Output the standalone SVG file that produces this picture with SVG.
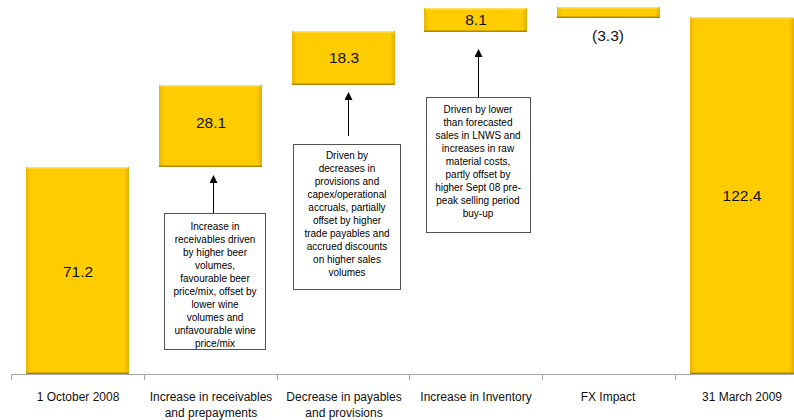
<svg xmlns="http://www.w3.org/2000/svg" width="794" height="420" viewBox="0 0 794 420">
<defs>
<linearGradient id="gh" x1="0" y1="0" x2="1" y2="0">
<stop offset="0" stop-color="#E8B800"/>
<stop offset="0.05" stop-color="#FFCC00"/>
<stop offset="0.95" stop-color="#FFCC00"/>
<stop offset="1" stop-color="#E0B000"/>
</linearGradient>
<marker id="ah" markerWidth="8" markerHeight="8" refX="7" refY="4" orient="auto" markerUnits="userSpaceOnUse">
<path d="M0,0 L8,4 L0,8 Z" fill="#000"/>
</marker>
<style>
.bar{fill:url(#gh);}
.bev{fill:none;stroke:#B08800;stroke-width:1.5;}
.top{fill:none;stroke:#FFE060;stroke-width:1.5;}
.val{font-family:"Liberation Sans",Arial,sans-serif;font-size:15.5px;fill:#111;text-anchor:middle;}
.cat{font-family:"Liberation Sans",Arial,sans-serif;font-size:12px;fill:#111;text-anchor:middle;}
.note{font-family:"Liberation Sans",Arial,sans-serif;font-size:10px;fill:#000;text-anchor:middle;}
.box{fill:#fff;stroke:#555;stroke-width:1;}
.conn{stroke:#000;stroke-width:1;fill:none;}
.axis{stroke:#A6A6A6;stroke-width:1;fill:none;}
</style>
</defs>

<g id="axis">
<path class="axis" d="M11,374.5 H794 M11.5,374 V380 M144.5,374 V380 M277.5,374 V380 M409.5,374 V380 M542.5,374 V380 M675.5,374 V380"/>
<text class="cat" x="78" y="401">1 October 2008</text>
<text class="cat" x="211" y="401">Increase in receivables</text>
<text class="cat" x="211" y="417">and prepayments</text>
<text class="cat" x="344" y="401">Decrease in payables</text>
<text class="cat" x="344" y="417">and provisions</text>
<text class="cat" x="476" y="401">Increase in Inventory</text>
<text class="cat" x="608" y="401">FX Impact</text>
<text class="cat" x="742" y="401">31 March 2009</text>
</g>

<g id="bar-oct2008">
<rect class="bar" x="26" y="167" width="103" height="207"/>
<path class="top" d="M27,167.8 H128"/>
<path class="bev" d="M26,373.3 H129"/>
<text class="val" x="78" y="277">71.2</text>
</g>

<g id="bar-receivables">
<rect class="bar" x="159" y="85" width="103" height="82"/>
<path class="top" d="M160,85.8 H261"/>
<path class="bev" d="M159,166.3 H262"/>
<text class="val" x="211" y="128">28.1</text>
</g>

<g id="bar-payables">
<rect class="bar" x="292" y="31" width="103" height="54"/>
<path class="top" d="M293,31.8 H394"/>
<path class="bev" d="M292,84.3 H395"/>
<text class="val" x="344" y="63">18.3</text>
</g>

<g id="bar-inventory">
<rect class="bar" x="424" y="8" width="103" height="24"/>
<path class="top" d="M425,8.8 H526"/>
<path class="bev" d="M424,31.3 H527"/>
<text class="val" x="476" y="25">8.1</text>
</g>

<g id="bar-fx">
<rect class="bar" x="557" y="7" width="103" height="11"/>
<path class="top" d="M558,7.8 H659"/>
<path class="bev" d="M557,17.3 H660"/>
<text class="val" x="608" y="41">(3.3)</text>
</g>

<g id="bar-mar2009">
<rect class="bar" x="690" y="17" width="104" height="357"/>
<path class="top" d="M691,17.8 H794"/>
<path class="bev" d="M690,373.3 H794"/>
<text class="val" x="742" y="201">122.4</text>
</g>

<g id="connectors">
<line class="conn" x1="213.5" y1="213" x2="213.5" y2="176" marker-end="url(#ah)"/>
<line class="conn" x1="348.5" y1="136" x2="348.5" y2="93" marker-end="url(#ah)"/>
<line class="conn" x1="478.5" y1="97" x2="478.5" y2="50" marker-end="url(#ah)"/>
</g>

<g id="note-receivables">
<rect class="box" x="164.5" y="213.5" width="101" height="136"/>
<text class="note" x="215" y="230">Increase in</text>
<text class="note" x="215" y="243">receivables driven</text>
<text class="note" x="215" y="256">by higher beer</text>
<text class="note" x="215" y="269">volumes,</text>
<text class="note" x="215" y="282">favourable beer</text>
<text class="note" x="215" y="295">price/mix, offset by</text>
<text class="note" x="215" y="308">lower wine</text>
<text class="note" x="215" y="321">volumes and</text>
<text class="note" x="215" y="334">unfavourable wine</text>
<text class="note" x="215" y="347">price/mix</text>
</g>

<g id="note-payables">
<rect class="box" x="293.5" y="144.5" width="107" height="145"/>
<text class="note" x="347" y="159">Driven by</text>
<text class="note" x="347" y="172">decreases in</text>
<text class="note" x="347" y="185">provisions and</text>
<text class="note" x="347" y="198">capex/operational</text>
<text class="note" x="347" y="211">accruals, partially</text>
<text class="note" x="347" y="224">offset by higher</text>
<text class="note" x="347" y="237">trade payables and</text>
<text class="note" x="347" y="250">accrued discounts</text>
<text class="note" x="347" y="263">on higher sales</text>
<text class="note" x="347" y="276">volumes</text>
</g>

<g id="note-inventory">
<rect class="box" x="426.5" y="97.5" width="104" height="135"/>
<text class="note" x="478" y="113">Driven by lower</text>
<text class="note" x="478" y="126">than forecasted</text>
<text class="note" x="478" y="139">sales in LNWS and</text>
<text class="note" x="478" y="152">increases in raw</text>
<text class="note" x="478" y="165">material costs,</text>
<text class="note" x="478" y="178">partly offset by</text>
<text class="note" x="478" y="191">higher Sept 08 pre-</text>
<text class="note" x="478" y="204">peak selling period</text>
<text class="note" x="478" y="217">buy-up</text>
</g>
</svg>
